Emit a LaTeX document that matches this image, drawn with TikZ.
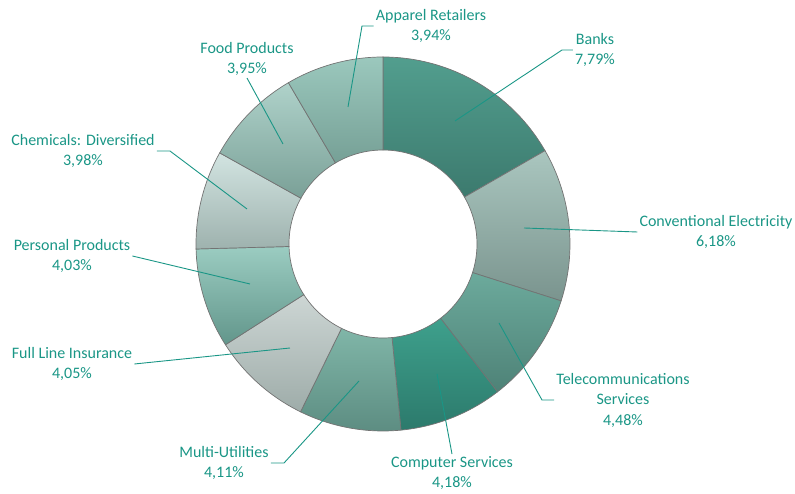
\documentclass[tikz,border=0pt]{standalone}
\usepackage{fontspec}
\setmainfont{Carlito}

\definecolor{labelteal}{RGB}{26,150,134}
\definecolor{banksT}{RGB}{82,158,142}
\definecolor{banksB}{RGB}{60,122,110}
\definecolor{elecT}{RGB}{170,198,191}
\definecolor{elecB}{RGB}{122,148,142}
\definecolor{telT}{RGB}{108,170,156}
\definecolor{telB}{RGB}{78,130,119}
\definecolor{compT}{RGB}{62,160,140}
\definecolor{compB}{RGB}{44,122,108}
\definecolor{multT}{RGB}{128,182,168}
\definecolor{multB}{RGB}{92,140,129}
\definecolor{fullT}{RGB}{205,214,212}
\definecolor{fullB}{RGB}{158,172,169}
\definecolor{persT}{RGB}{155,204,193}
\definecolor{persB}{RGB}{98,150,139}
\definecolor{chemT}{RGB}{210,228,225}
\definecolor{chemB}{RGB}{158,178,174}
\definecolor{foodT}{RGB}{175,210,202}
\definecolor{foodB}{RGB}{122,160,151}
\definecolor{appT}{RGB}{155,200,189}
\definecolor{appB}{RGB}{118,160,150}

\begin{document}
\begin{tikzpicture}[x=1pt,y=1pt,
  seg/.style={draw=black!55, line width=0.7pt},
  lbl/.style={text=labelteal, align=center, font=\fontsize{16}{20.5}\selectfont, inner sep=2pt},
  leader/.style={draw=labelteal, line width=0.9pt}]
\useasboundingbox (-383,-250) rectangle (412,244);

% Ring segments, clockwise from the top
\path[seg, top color=banksT, bottom color=banksB] (90:187pt) arc[start angle=90, end angle=29.94, radius=187pt] -- (29.94:94pt) arc[start angle=29.94, end angle=90, radius=94pt] -- cycle;
\path[seg, top color=elecT, bottom color=elecB] (29.94:187pt) arc[start angle=29.94, end angle=-17.71, radius=187pt] -- (-17.71:94pt) arc[start angle=-17.71, end angle=29.94, radius=94pt] -- cycle;
\path[seg, top color=telT, bottom color=telB] (-17.71:187pt) arc[start angle=-17.71, end angle=-52.25, radius=187pt] -- (-52.25:94pt) arc[start angle=-52.25, end angle=-17.71, radius=94pt] -- cycle;
\path[seg, top color=compT, bottom color=compB] (-52.25:187pt) arc[start angle=-52.25, end angle=-84.48, radius=187pt] -- (-84.48:94pt) arc[start angle=-84.48, end angle=-52.25, radius=94pt] -- cycle;
\path[seg, top color=multT, bottom color=multB] (-84.48:187pt) arc[start angle=-84.48, end angle=-116.17, radius=187pt] -- (-116.17:94pt) arc[start angle=-116.17, end angle=-84.48, radius=94pt] -- cycle;
\path[seg, top color=fullT, bottom color=fullB] (-116.17:187pt) arc[start angle=-116.17, end angle=-147.40, radius=187pt] -- (-147.40:94pt) arc[start angle=-147.40, end angle=-116.17, radius=94pt] -- cycle;
\path[seg, top color=persT, bottom color=persB] (-147.40:187pt) arc[start angle=-147.40, end angle=-178.47, radius=187pt] -- (-178.47:94pt) arc[start angle=-178.47, end angle=-147.40, radius=94pt] -- cycle;
\path[seg, top color=chemT, bottom color=chemB] (-178.47:187pt) arc[start angle=-178.47, end angle=-209.16, radius=187pt] -- (-209.16:94pt) arc[start angle=-209.16, end angle=-178.47, radius=94pt] -- cycle;
\path[seg, top color=foodT, bottom color=foodB] (-209.16:187pt) arc[start angle=-209.16, end angle=-239.62, radius=187pt] -- (-239.62:94pt) arc[start angle=-239.62, end angle=-209.16, radius=94pt] -- cycle;
\path[seg, top color=appT, bottom color=appB] (-239.62:187pt) arc[start angle=-239.62, end angle=-270, radius=187pt] -- (-270:94pt) arc[start angle=-270, end angle=-239.62, radius=94pt] -- cycle;

% Labels
\node[lbl] (apparel) at (48,218) {Apparel Retailers\\3,94\%};
\node[lbl] (banks) at (212,194) {Banks\\7,79\%};
\node[lbl] (elec) at (333,12) {Conventional Electricity\\6,18\%};
\node[lbl] (telecom) at (240,-156) {Telecommunications\\Services\\4,48\%};
\node[lbl] (computer) at (69,-229) {Computer Services\\4,18\%};
\node[lbl] (multi) at (-159,-219) {Multi-Utilities\\4,11\%};
\node[lbl] (insurance) at (-311,-120) {Full Line Insurance\\4,05\%};
\node[lbl] (personal) at (-311,-12) {Personal Products\\4,03\%};
\node[lbl] (chemicals) at (-300,93) {Chemicals: Diversified\\3,98\%};
\node[lbl] (food) at (-136,185) {Food Products\\3,95\%};

% Leader lines
\coordinate (apparel-in) at (-35,137);
\coordinate (apparel-el) at (-21,218);
\coordinate (banks-in) at (72,123);
\coordinate (banks-el) at (179,194);
\coordinate (elec-in) at (141,16);
\coordinate (telecom-in) at (116,-79);
\coordinate (telecom-el) at (159,-156);
\coordinate (computer-in) at (54,-130);
\coordinate (multi-in) at (-24,-137);
\coordinate (multi-el) at (-99,-219);
\coordinate (insurance-in) at (-93,-104);
\coordinate (personal-in) at (-133,-40);
\coordinate (chemicals-in) at (-136,35);
\coordinate (chemicals-el) at (-213,93);
\coordinate (food-in) at (-100,100);

\draw[leader] (apparel-in) -- (apparel-el) -- (apparel.west);
\draw[leader] (banks-in) -- (banks-el) -- (banks.west);
\draw[leader] (elec-in) -- (elec.west);
\draw[leader] (telecom-in) -- (telecom-el) -- (telecom.west);
\draw[leader] (computer-in) -- (computer.north);
\draw[leader] (multi-in) -- (multi-el) -- (multi.east);
\draw[leader] (insurance-in) -- (insurance.east);
\draw[leader] (personal-in) -- (personal.east);
\draw[leader] (chemicals-in) -- (chemicals-el) -- (chemicals.east);
\draw[leader] (food-in) -- (food.south);
\end{tikzpicture}
\end{document}
